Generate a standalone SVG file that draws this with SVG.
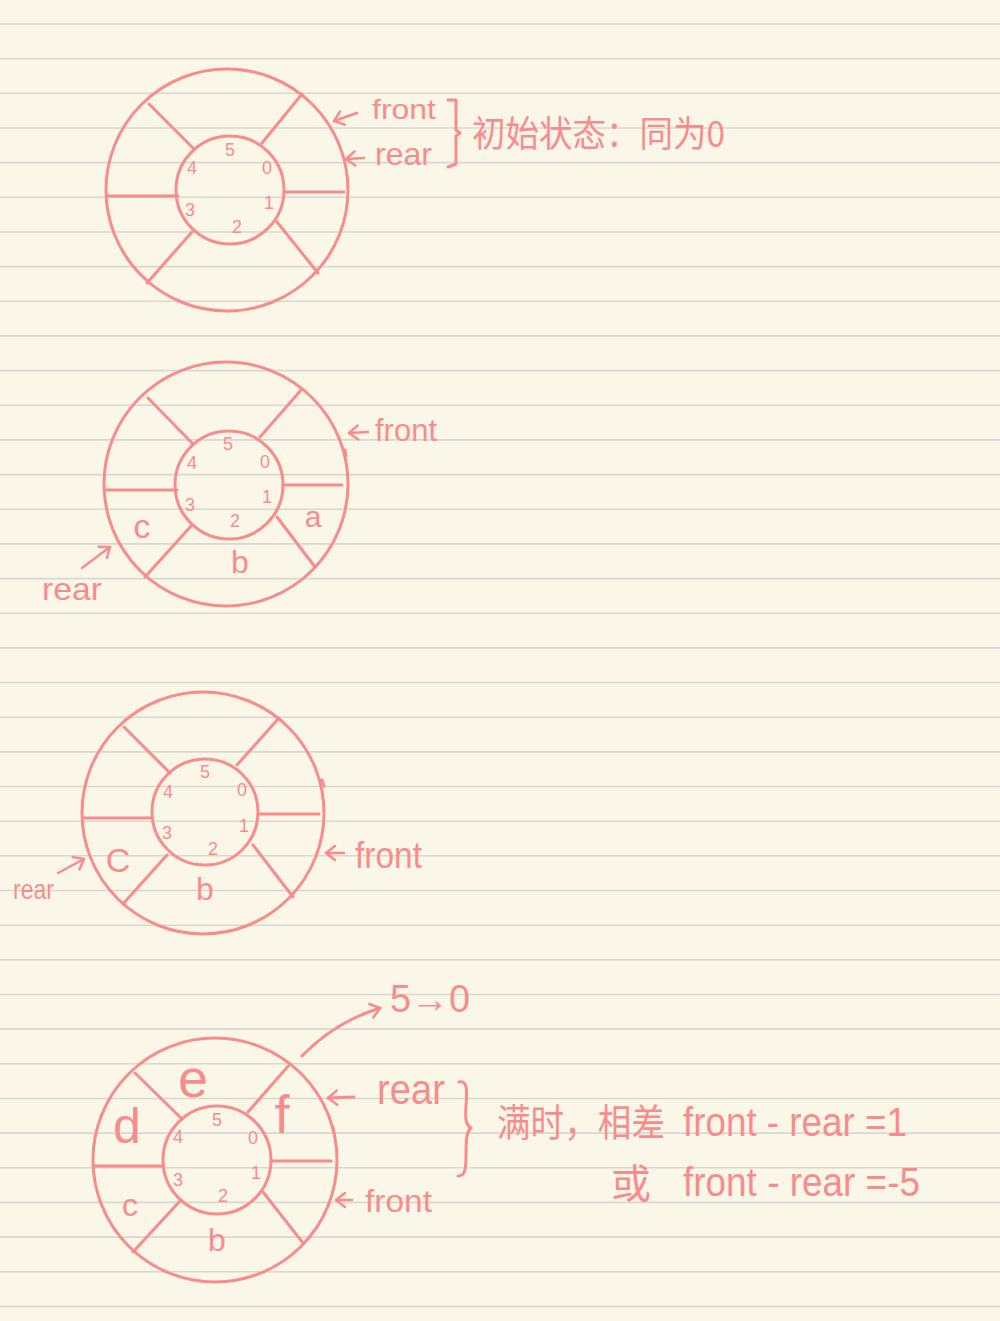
<svg xmlns="http://www.w3.org/2000/svg" width="1000" height="1321" viewBox="0 0 1000 1321">
<defs>
<style>
.ink{fill:none;stroke:#f88c8c;stroke-width:3;stroke-linecap:round;stroke-linejoin:round}
.thin{fill:none;stroke:#f88c8c;stroke-width:2.5;stroke-linecap:round;stroke-linejoin:round}
.t{fill:#f88c8c;font-family:"Liberation Sans","Noto Sans CJK SC",sans-serif}
.d{fill:#f88c8c;font-family:"Liberation Sans",sans-serif;font-size:18px;text-anchor:middle;dominant-baseline:central}
.l{fill:#f88c8c;font-family:"Liberation Sans",sans-serif;text-anchor:middle;dominant-baseline:central}
.cjk{fill:#f88c8c;font-family:"Noto Sans CJK SC",sans-serif}
</style>
<marker id="ah" markerUnits="userSpaceOnUse" markerWidth="20" markerHeight="20" refX="13" refY="10" orient="auto">
<path d="M4,3 L13,10 L4,17" fill="none" stroke="#f88c8c" stroke-width="2.5" stroke-linecap="round" stroke-linejoin="round"/>
</marker>
</defs>
<rect width="1000" height="1321" fill="#faf7e9"/>
<path stroke="#d9d7d1" stroke-width="1.6" fill="none" d="M0,24H1000M0,58.7H1000M0,93.3H1000M0,128H1000M0,162.6H1000M0,197.3H1000M0,232H1000M0,266.6H1000M0,301.3H1000M0,335.9H1000M0,370.6H1000M0,405.3H1000M0,439.9H1000M0,474.6H1000M0,509.2H1000M0,543.9H1000M0,578.6H1000M0,613.2H1000M0,647.9H1000M0,682.5H1000M0,717.2H1000M0,751.9H1000M0,786.5H1000M0,821.2H1000M0,855.8H1000M0,890.5H1000M0,925.2H1000M0,959.8H1000M0,994.5H1000M0,1029.1H1000M0,1063.8H1000M0,1098.5H1000M0,1133.1H1000M0,1167.8H1000M0,1202.4H1000M0,1237.1H1000M0,1271.8H1000M0,1306.4H1000"/>

<g id="queue-initial">
<circle class="ink" cx="227" cy="190" r="121"/>
<circle class="ink" cx="230" cy="190" r="54"/>
<path class="ink" d="M149,104L193,148M302,94L262,143M107,196H178M284,192H344M192,232L147,283M277,222L318,273"/>
<text class="d" x="230" y="150">5</text>
<text class="d" x="267" y="168">0</text>
<text class="d" x="192" y="168">4</text>
<text class="d" x="269" y="203">1</text>
<text class="d" x="190" y="210">3</text>
<text class="d" x="237" y="227">2</text>
</g>

<g id="queue-abc">
<circle class="ink" cx="226" cy="484" r="122"/>
<circle class="ink" cx="229" cy="485" r="54"/>
<path class="ink" d="M148,398L193,444M302,389L260,437M106,490H177M283,485H342M192,525L145,577M277,517L315,567M345,450L346,456"/>
<text class="d" x="228" y="444">5</text>
<text class="d" x="265" y="462">0</text>
<text class="d" x="192" y="463">4</text>
<text class="d" x="267" y="497">1</text>
<text class="d" x="190" y="505">3</text>
<text class="d" x="235" y="521">2</text>
<text class="l" x="313" y="516" font-size="30">a</text>
<text class="l" x="142" y="526" font-size="34">c</text>
<text class="l" x="240" y="562" font-size="32">b</text>
</g>

<g id="queue-bc">
<circle class="ink" cx="203" cy="813" r="121"/>
<circle class="ink" cx="205" cy="812" r="53"/>
<path class="ink" d="M124,727L170,773M279,718L237,765M83,818H152M259,814H319M167,855L123,904M253,845L293,897M322,780L324,786"/>
<text class="d" x="205" y="772">5</text>
<text class="d" x="242" y="790">0</text>
<text class="d" x="168" y="792">4</text>
<text class="d" x="244" y="826">1</text>
<text class="d" x="167" y="833">3</text>
<text class="d" x="213" y="849">2</text>
<text class="l" x="118" y="860" font-size="34">C</text>
<text class="l" x="205" y="889" font-size="32">b</text>
</g>

<g id="queue-full">
<circle class="ink" cx="215" cy="1160" r="122"/>
<circle class="ink" cx="217" cy="1160" r="54"/>
<path class="ink" d="M135,1073L182,1119M290,1064L248,1112M93,1166H163M271,1161H331M180,1201L133,1252M263,1192L303,1243M333,1127L334,1133"/>
<text class="d" x="217" y="1120">5</text>
<text class="d" x="253" y="1138">0</text>
<text class="d" x="178" y="1137">4</text>
<text class="d" x="256" y="1173">1</text>
<text class="d" x="178" y="1180">3</text>
<text class="d" x="223" y="1196">2</text>
<text class="l" x="193" y="1078" font-size="54">e</text>
<text class="l" x="282" y="1114" font-size="54">f</text>
<text class="l" x="127" y="1126" font-size="50">d</text>
<text class="l" x="130" y="1205" font-size="32">c</text>
<text class="l" x="217" y="1240" font-size="32">b</text>
</g>

<g id="connectors">
<path class="thin" marker-end="url(#ah)" d="M357,113L334,121"/>
<path class="thin" marker-end="url(#ah)" d="M364,158L346,159"/>
<path class="thin" marker-end="url(#ah)" d="M368,432L349,433"/>
<path class="thin" marker-end="url(#ah)" d="M82,568L110,547"/>
<path class="thin" marker-end="url(#ah)" d="M344,853L326,853"/>
<path class="thin" marker-end="url(#ah)" d="M58,873L84,859"/>
<path class="ink" marker-end="url(#ah)" d="M354,1097L328,1098"/>
<path class="thin" marker-end="url(#ah)" d="M352,1200L336,1200"/>
<path class="ink" marker-end="url(#ah)" d="M302,1056Q335,1022 380,1008"/>
</g>

<g id="labels">
<text class="t" x="372" y="119" font-size="28" textLength="64" lengthAdjust="spacingAndGlyphs">front</text>
<text class="t" x="375" y="165" font-size="32" textLength="57" lengthAdjust="spacingAndGlyphs">rear</text>
<path class="ink" d="M448,100H456V130L460,133L456,136V164L448,167"/>
<text class="cjk" x="472" y="147" font-size="36" textLength="253" lengthAdjust="spacingAndGlyphs">初始状态：同为0</text>

<text class="t" x="375" y="441" font-size="32" textLength="62" lengthAdjust="spacingAndGlyphs">front</text>
<text class="t" x="42" y="600" font-size="32" textLength="60" lengthAdjust="spacingAndGlyphs">rear</text>

<text class="t" x="355" y="868" font-size="36" textLength="67" lengthAdjust="spacingAndGlyphs">front</text>
<text class="t" x="13" y="899" font-size="28" textLength="41" lengthAdjust="spacingAndGlyphs">rear</text>

<text class="t" x="390" y="1012" font-size="38" textLength="80" lengthAdjust="spacingAndGlyphs">5→0</text>
<text class="t" x="377" y="1104" font-size="42" textLength="68" lengthAdjust="spacingAndGlyphs">rear</text>
<path class="ink" d="M459,1082C468,1080 467,1092 466,1106C465,1120 466,1125 471,1128C466,1132 466,1142 466,1156C466,1172 464,1176 458,1176"/>
<text class="t" x="365" y="1212" font-size="32" textLength="67" lengthAdjust="spacingAndGlyphs">front</text>

<text class="cjk" x="497" y="1136" font-size="38" textLength="168" lengthAdjust="spacingAndGlyphs">满时，相差</text>
<text class="t" x="683" y="1136" font-size="40" textLength="224" lengthAdjust="spacingAndGlyphs">front - rear =1</text>
<text class="cjk" x="611" y="1198" font-size="40">或</text>
<text class="t" x="683" y="1196" font-size="40" textLength="237" lengthAdjust="spacingAndGlyphs">front - rear =-5</text>
</g>
</svg>
